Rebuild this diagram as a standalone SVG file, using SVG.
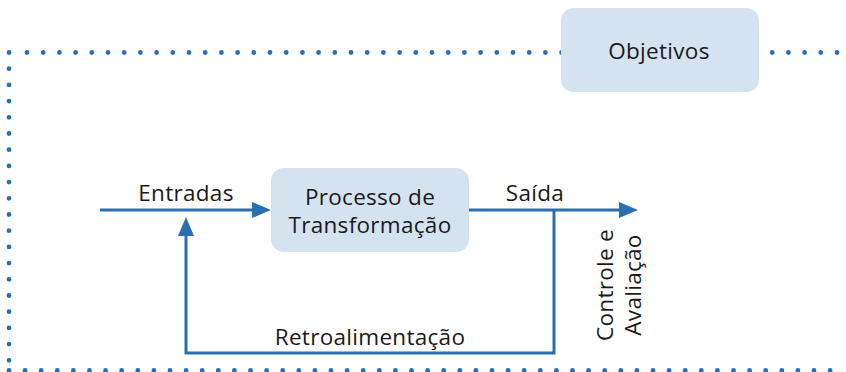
<svg xmlns="http://www.w3.org/2000/svg" width="846" height="372" viewBox="0 0 846 372">
<style>
.dots{fill:none;stroke:#2a6fb0;stroke-width:4.8;stroke-linecap:round;}
.box{fill:#d5e2f0;}
.t{font-family:"Open Sans","Liberation Sans",sans-serif;font-size:22.5px;font-weight:400;letter-spacing:0.3px;fill:#1a1a1a;}
.ln{fill:none;stroke:#2a6fb0;stroke-width:3;}
.ah{fill:#2a6fb0;}
</style>
<rect width="846" height="372" fill="#ffffff"/>
<g id="boundary">
<path class="dots" d="M9 52.5 V361" stroke-dasharray="0 16.2"/>
<path class="dots" d="M27 52.5 H846" stroke-dasharray="0 16.2"/>
<path class="dots" d="M9 370.5 H846" stroke-dasharray="0 16.1"/>
</g>
<g id="connectors">
<path class="ln" d="M100 210 H255"/>
<polygon class="ah" points="271,210 252,202 252,218"/>
<path class="ln" d="M469 210 H622"/>
<polygon class="ah" points="638,210 619,202 619,218"/>
<path class="ln" d="M554 210 V353 H186 V232"/>
<polygon class="ah" points="186,217 178,236 194,236"/>
</g>
<g id="node-objetivos">
<rect class="box" x="561" y="8" width="198" height="84" rx="13"/>
<text class="t" x="659" y="59" text-anchor="middle">Objetivos</text>
</g>
<g id="node-processo">
<rect class="box" x="271" y="168" width="198" height="84" rx="13"/>
<text class="t" x="370" y="205" text-anchor="middle">Processo de</text>
<text class="t" x="370" y="233" text-anchor="middle">Transformação</text>
</g>
<g id="labels">
<text class="t" x="186" y="201" text-anchor="middle">Entradas</text>
<text class="t" x="535" y="201" text-anchor="middle">Saída</text>
<text class="t" x="370" y="345" text-anchor="middle">Retroalimentação</text>
<text class="t" transform="translate(613 285) rotate(-90)" text-anchor="middle">Controle e</text>
<text class="t" transform="translate(641 285) rotate(-90)" text-anchor="middle">Avaliação</text>
</g>
</svg>
